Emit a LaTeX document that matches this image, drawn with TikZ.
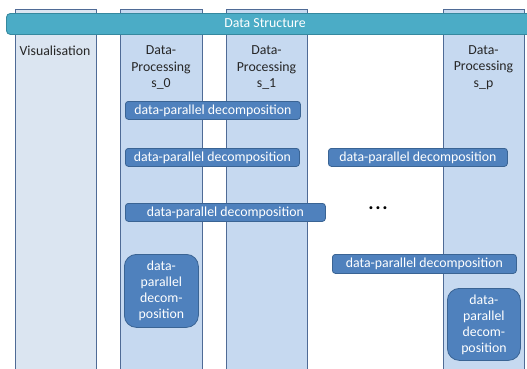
\documentclass[tikz,border=0pt]{standalone}
\usepackage{fontspec}
\setmainfont{Carlito}
\definecolor{colfill}{HTML}{C6D9F0}
\definecolor{visfill}{HTML}{DBE5F1}
\definecolor{colline}{HTML}{4F6B96}
\definecolor{barfill}{HTML}{4BACC6}
\definecolor{barline}{HTML}{35899F}
\definecolor{decfill}{HTML}{4F81BD}
\definecolor{decline}{HTML}{3A6494}
\tikzset{
  column/.style={draw=colline, line width=0.9pt, fill=colfill, anchor=north west, inner sep=0pt},
  collabel/.style={align=center, font=\fontsize{13.8}{16.5}\selectfont, text=black!85, inner sep=0pt},
  decomp/.style={draw=decline, line width=0.8pt, fill=decfill, rounded corners=3pt, text=white,
    font=\fontsize{13.8}{16}\selectfont, inner sep=0pt, anchor=north west},
  decompblock/.style={decomp, rounded corners=12pt, align=center},
}
\begin{document}
\begin{tikzpicture}[x=1pt,y=-1pt]
\useasboundingbox (0,0) rectangle (527,368);
\clip (0,0) rectangle (527,368);
% columns
\node[column, fill=visfill, minimum width=81pt, minimum height=370pt] (vis) at (15,9) {};
\node[column, minimum width=82pt, minimum height=370pt] (s0) at (120,9) {};
\node[column, minimum width=81pt, minimum height=370pt] (s1) at (226,9) {};
\node[column, minimum width=81pt, minimum height=370pt] (sp) at (443,9) {};
% data structure bar
\node[draw=barline, line width=0.9pt, fill=barfill, rounded corners=4pt, anchor=north west,
  minimum width=526pt, minimum height=21pt, inner sep=0pt] (ds) at (6,13) {};
\node[text=white, font=\fontsize{13.8}{16}\selectfont] (dslabel) at (265,23) {Data Structure};
% column labels
\node[collabel] (visl) at (55,51) {Visualisation};
\node[collabel] (s0l) at (161,67.5) {Data-\\Processing\\s\_0};
\node[collabel] (s1l) at (266.5,67.5) {Data-\\Processing\\s\_1};
\node[collabel] (spl) at (483.5,67.5) {Data-\\Processing\\s\_p};
% decomposition boxes
\node[decomp, minimum width=175pt, minimum height=18pt] (d1) at (125,101) {data-parallel decomposition};
\node[decomp, minimum width=174pt, minimum height=18pt] (d2) at (125,148) {data-parallel decomposition};
\node[decomp, minimum width=179pt, minimum height=18pt] (d4) at (328,148) {data-parallel decomposition};
\node[decomp, minimum width=200pt, minimum height=18pt] (d3) at (125,203) {data-parallel decomposition};
\node[decomp, minimum width=184pt, minimum height=19pt] (d5) at (332,254) {data-parallel decomposition};
\node[decompblock, minimum width=74pt, minimum height=73pt] (b0) at (124,254) {data-\\parallel\\decom-\\position};
\node[decompblock, minimum width=73pt, minimum height=72pt] (bp) at (447,288) {data-\\parallel\\decom-\\position};
% ellipsis
\node[font=\fontsize{20}{22}\selectfont\bfseries, inner sep=0pt, anchor=base] (dots) at (378,209) {.\kern1.6pt.\kern1.6pt.};
\end{tikzpicture}
\end{document}
